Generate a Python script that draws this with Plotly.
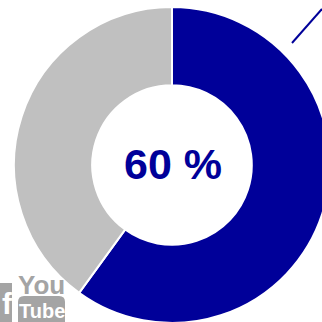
import plotly.graph_objects as go

# Share of the two parts of the ring
labels = ["Oui", "Non"]
values = [60, 40]
colors = ["#000099", "#C0C0C0"]

W, H = 330, 330          # canvas, slightly larger than the visible window
CX, CY, R = 172, 165, 158  # ring centre and outer radius, in px from top-left

pct = round(100 * values[0] / sum(values))

fig = go.Figure(
    go.Pie(
        labels=labels,
        values=values,
        sort=False,
        direction="clockwise",
        rotation=0,
        hole=0.505,
        marker=dict(colors=colors, line=dict(color="white", width=2)),
        textinfo="none",
        hoverinfo="skip",
        showlegend=False,
        domain=dict(
            x=[(CX - R) / W, (CX + R) / W],
            y=[(H - CY - R) / H, (H - CY + R) / H],
        ),
    )
)


def px(x, y):
    """Convert pixel position (from top-left) to paper coordinates."""
    return x / W, 1 - y / H


shapes = []
# leader line toward the (off-canvas) label
x0, y0 = px(292, 43)
x1, y1 = px(322, 9)
shapes.append(dict(type="line", xref="paper", yref="paper", x0=x0, y0=y0, x1=x1, y1=y1,
                   line=dict(color=colors[0], width=2)))

# social badges in the bottom-left corner
logo_grey = "#A4A4A4"
bx0, by0 = px(-4, 283)
bx1, by1 = px(12, 335)
shapes.append(dict(type="rect", xref="paper", yref="paper", x0=bx0, y0=by1, x1=bx1, y1=by0,
                   fillcolor=logo_grey, line=dict(width=0)))
# rounded box behind "Tube"
l, t = px(18, 296)
r, b = px(65, 335)
rad_y = 6 / H
path = (f"M {l},{b} L {l},{t-rad_y} Q {l},{t} {l+6/W},{t} L {r-6/W},{t} "
        f"Q {r},{t} {r},{t-rad_y} L {r},{b} Z")
shapes.append(dict(type="path", xref="paper", yref="paper", path=path,
                   fillcolor=logo_grey, line=dict(width=0)))

annotations = []
# percentage in the hole
cx, cy = px(CX + 1, CY - 1)
annotations.append(dict(text=f"<b>{pct} %</b>", x=cx, y=cy, xref="paper", yref="paper", showarrow=False,
                        font=dict(family="Liberation Sans, Arial, sans-serif", size=43, color=colors[0]),
                        xanchor="center", yanchor="middle"))

fx, fy = px(7, 303)
annotations.append(dict(text="<b>f</b>", x=fx, y=fy, xref="paper", yref="paper", showarrow=False,
                        font=dict(family="Liberation Sans, Arial", size=30, color="white"),
                        xanchor="center", yanchor="middle"))
yx, yy = px(41.5, 285)
annotations.append(dict(text="<b>You</b>", x=yx, y=yy, xref="paper", yref="paper", showarrow=False,
                        font=dict(family="Liberation Sans Narrow, Arial Narrow, sans-serif", size=26, color=logo_grey),
                        xanchor="center", yanchor="middle"))
tx, ty = px(41.5, 311)
annotations.append(dict(text="<b>Tube</b>", x=tx, y=ty, xref="paper", yref="paper", showarrow=False,
                        font=dict(family="Liberation Sans Narrow, Arial Narrow, sans-serif", size=20, color="white"),
                        xanchor="center", yanchor="middle"))

fig.update_layout(
    width=W,
    height=H,
    margin=dict(l=0, r=0, t=0, b=0),
    paper_bgcolor="white",
    plot_bgcolor="white",
    shapes=shapes,
    annotations=annotations,
)

fig.write_html(
    "out.html",
    post_script="document.documentElement.style.overflow='hidden';document.body.style.overflow='hidden';document.body.style.margin='0';",
)
